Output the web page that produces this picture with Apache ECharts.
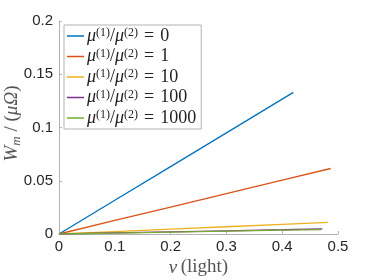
<!DOCTYPE html>
<html><head><meta charset="utf-8">
<script src="https://cdn.jsdelivr.net/npm/echarts@6/dist/echarts.min.js"></script>
<style>html,body{margin:0;padding:0;background:#fff}#c{width:374px;height:280px}</style>
</head><body><div id="c"></div>
<script>
const seriesNames = ['0', '1', '10', '100', '1000'];
const xBlue = [0, 0.1, 0.2, 0.3, 0.42];
const yBlue = [0, 0.0317, 0.0633, 0.095, 0.133];
const xOrange = [0, 0.1, 0.2, 0.3, 0.4, 0.487];
const yOrange = [0, 0.0127, 0.0253, 0.038, 0.0506, 0.0615];
const xYellow = [0, 0.1, 0.2, 0.3, 0.4, 0.482];
const yYellow = [0, 0.0023, 0.0046, 0.0068, 0.0091, 0.0110];
const xPurple = [0, 0.1, 0.2, 0.3, 0.4, 0.472];
const yPurple = [0, 0.0010, 0.0020, 0.0030, 0.0040, 0.0048];
const xGreen = [0, 0.1, 0.2, 0.3, 0.4, 0.470];
const yGreen = [0, 0.0009, 0.0018, 0.0027, 0.0036, 0.0042];
const xTicks = [0, 0.1, 0.2, 0.3, 0.4, 0.5];
const yTicks = [0, 0.05, 0.1, 0.15, 0.2];
const colors = ['#0072BD', '#D95319', '#EDB120', '#7E2F8E', '#77AC30'];

const xs = [xBlue, xOrange, xYellow, xPurple, xGreen];
const ys = [yBlue, yOrange, yYellow, yPurple, yGreen];

const chart = echarts.init(document.getElementById('c'));
const serif = 'Liberation Serif';
const tickFont = { fontFamily: 'Liberation Sans', fontSize: 15, color: '#262626' };
chart.setOption({
  animation: false,
  grid: { left: 59, right: 36, top: 21, bottom: 46, outerBoundsMode: 'none', containLabel: false },
  xAxis: {
    type: 'value', min: 0, max: 0.5, interval: 0.1,
    axisLine: { lineStyle: { color: '#b3b3b3', width: 1 } },
    axisTick: { inside: true, length: 3, lineStyle: { color: '#b3b3b3' } },
    splitLine: { show: false },
    axisLabel: Object.assign({ margin: 5, formatter: v => String(parseFloat(v.toFixed(2))) }, tickFont),
    name: '{i|v} {n|(light)}',
    nameLocation: 'middle', nameGap: 24, nameMoveOverlap: false,
    nameTextStyle: { rich: {
      i: { fontFamily: serif, fontStyle: 'italic', fontSize: 19, color: '#555' },
      n: { fontFamily: serif, fontSize: 19, color: '#555' } } }
  },
  yAxis: {
    type: 'value', min: 0, max: 0.2, interval: 0.05,
    axisLine: { show: true, lineStyle: { color: '#b3b3b3', width: 1 } },
    axisTick: { show: true, inside: true, length: 3, lineStyle: { color: '#b3b3b3' } },
    splitLine: { show: false },
    axisLabel: Object.assign({ margin: 6, formatter: v => String(parseFloat(v.toFixed(2))) }, tickFont),
    name: '{i|W}{s|m}{n| / (}{i|μΩ}{n|)}',
    nameLocation: 'middle', nameGap: 36, nameMoveOverlap: false,
    nameTextStyle: { padding: [0, 0, 0, 8], rich: {
      i: { fontFamily: serif, fontStyle: 'italic', fontSize: 19, color: '#555', lineHeight: 22 },
      s: { fontFamily: serif, fontStyle: 'italic', fontSize: 13, color: '#555', verticalAlign: 'bottom', lineHeight: 12 },
      n: { fontFamily: serif, fontSize: 19, color: '#555', lineHeight: 22 } } }
  },
  legend: {
    orient: 'vertical', left: 64, top: 25,
    backgroundColor: '#fff', borderColor: '#b3b3b3', borderWidth: 1, borderRadius: 0,
    padding: [2, 5, 2, 3], itemGap: 2.5, itemWidth: 17,
    data: seriesNames.map((n, i) => ({ name: n, icon: 'rect', itemStyle: { color: colors[i] } })),
    itemHeight: 1.5,
    formatter: n => '{m|μ}{s|(1)}{r|/}{m|μ}{s|(2)}{e|=}{r|' + n + '}',
    textStyle: { padding: [0, 0, 0, -2], rich: {
      m: { fontFamily: serif, fontStyle: 'italic', fontSize: 18, color: '#222', lineHeight: 18 },
      s: { fontFamily: serif, fontSize: 12, color: '#222', verticalAlign: 'top', lineHeight: 11 },
      e: { fontFamily: serif, fontSize: 18, color: '#222', lineHeight: 18, padding: [0, 6, 0, 6] },
      r: { fontFamily: serif, fontSize: 18, color: '#222', lineHeight: 18 } } }
  },
  series: seriesNames.map((n, i) => ({
    name: n, type: 'line', showSymbol: false, symbol: 'none',
    lineStyle: { color: colors[i], width: 1.3 }, itemStyle: { color: colors[i] },
    data: xs[i].map((x, k) => [x, ys[i][k]])
  }))
});
</script></body></html>
